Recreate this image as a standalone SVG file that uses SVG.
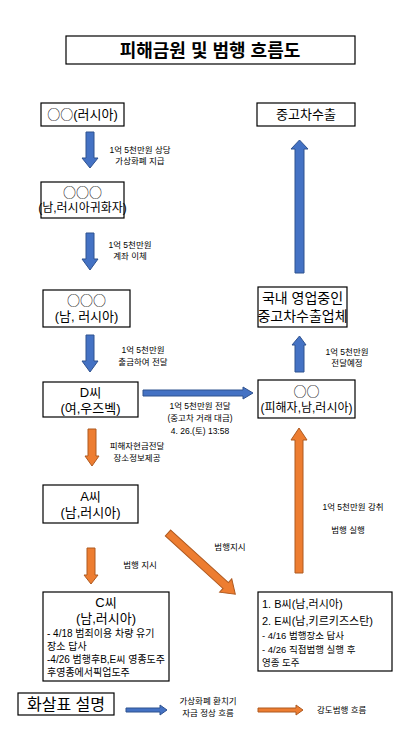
<svg xmlns="http://www.w3.org/2000/svg" width="414" height="738" viewBox="0 0 414 738">
<style>
text{font-family:"Liberation Sans","Noto Sans CJK KR",sans-serif;fill:#000;}
.cj{font-family:"Noto Sans CJK KR",sans-serif;}
.box{fill:#fff;stroke:#000;stroke-width:1.2;}
.t13{font-size:13px;text-anchor:middle;}
.lbl{font-size:8.5px;text-anchor:middle;}
.blue{fill:#4472C4;stroke:#2F528F;stroke-width:1;}
.orange{fill:#ED7D31;stroke:#AE5A21;stroke-width:1;}
</style>
<rect width="414" height="738" fill="#fff"/>
<g id="title">
<rect class="box" x="66" y="36" width="289" height="28"/>
<text x="210" y="57" font-size="18" font-weight="bold" text-anchor="middle">피해금원 및 범행 흐름도</text>
</g>
<g id="n1">
<rect class="box" x="41" y="103" width="83" height="23"/>
<text class="t13" x="82.5" y="119"><tspan class="cj">○○</tspan>(러시아)</text>
</g>
<g id="n2">
<rect class="box" x="41" y="182" width="83" height="36"/>
<text class="t13 cj" x="82.5" y="197">○○○</text>
<text x="82.5" y="212" font-size="12" text-anchor="middle">(남,러시아귀화자)</text>
</g>
<g id="n3">
<rect class="box" x="43" y="290" width="87" height="37"/>
<text class="t13 cj" x="86.5" y="305">○○○</text>
<text class="t13" x="86.5" y="321">(남, 러시아)</text>
</g>
<g id="nD">
<rect class="box" x="43" y="382" width="95" height="35"/>
<text class="t13" x="90.5" y="397">D씨</text>
<text class="t13" x="90.5" y="413">(여,우즈벡)</text>
</g>
<g id="nA">
<rect class="box" x="43" y="485" width="95" height="38"/>
<text class="t13" x="90.5" y="501">A씨</text>
<text class="t13" x="90.5" y="517">(남,러시아)</text>
</g>
<g id="nC">
<rect class="box" x="43" y="592" width="126" height="89"/>
<text class="t13" x="106" y="607">C씨</text>
<text class="t13" x="106" y="623">(남,러시아)</text>
<text x="47" y="637" font-size="10">- 4/18 범죄이용 차량 유기</text>
<text x="47" y="650" font-size="10">장소 답사</text>
<text x="47" y="663" font-size="10" textLength="118" lengthAdjust="spacingAndGlyphs">-4/26 범행후B,E씨 영종도주</text>
<text x="47" y="676" font-size="10">후영종에서픽업도주</text>
</g>
<g id="nExport">
<rect class="box" x="257" y="103" width="98" height="23"/>
<text class="t13" x="306" y="119">중고차수출</text>
</g>
<g id="nCompany">
<rect class="box" x="258" y="287" width="89" height="40"/>
<text x="302.5" y="303" font-size="14" text-anchor="middle">국내 영업중인</text>
<text x="302.5" y="321" font-size="14" text-anchor="middle">중고차수출업체</text>
</g>
<g id="nVictim">
<rect class="box" x="258" y="380" width="97" height="38"/>
<text class="t13 cj" x="306.5" y="396">○○</text>
<text x="306.5" y="412" font-size="12" text-anchor="middle">(피해자,남,러시아)</text>
</g>
<g id="nBE">
<rect class="box" x="258" y="592" width="134" height="79"/>
<text x="262" y="608" font-size="11">1. B씨(남,러시아)</text>
<text x="262" y="625" font-size="11">2. E씨(남,키르키즈스탄)</text>
<text x="262" y="639" font-size="9.5">- 4/16 범행장소 답사</text>
<text x="262" y="653" font-size="9.5">- 4/26 직접범행 실행 후</text>
<text x="262" y="666" font-size="9.5">영종 도주</text>
</g>
<g id="legend">
<rect class="box" x="18" y="693" width="96" height="22"/>
<text x="66" y="710" font-size="16" text-anchor="middle">화살표 설명</text>
<polygon class="blue" points="126,708 160,708 160,705 167,710 160,715 160,712 126,712"/>
<text class="lbl" x="208" y="704">가상화폐 환치기</text>
<text class="lbl" x="208" y="716">자금 정상 흐름</text>
<polygon class="orange" points="258,708 296,708 296,705 303,710 296,715 296,712 258,712"/>
<text x="317" y="713" font-size="8.5">강도범행 흐름</text>
</g>
<g id="connectors">
<polygon class="blue" points="86,132 94,132 94,158 98,158 90,168 82,158 86,158"/>
<polygon class="blue" points="86,233 94,233 94,259 98,259 90,270 82,259 86,259"/>
<polygon class="blue" points="86,335 94,335 94,361 98,361 90,372 82,361 86,361"/>
<polygon class="blue" points="143,390 243,390 243,387 253,393 243,399 243,396 143,396"/>
<polygon class="orange" points="88,429 96,429 96,456 99,456 92,466 85,456 88,456"/>
<polygon class="orange" points="87,548 95,548 95,575 98,575 91,584 84,575 87,575"/>
<polygon class="orange" transform="translate(168,533) rotate(42.3)" points="0,-4 78,-4 78,-9 91,0 78,9 78,4 0,4"/>
<polygon class="orange" points="295,573 303,573 303,440 307,440 299,428 291,440 295,440"/>
<polygon class="blue" points="295,372 304,372 304,345 306,345 299.5,336 292,345 295,345"/>
<polygon class="blue" points="295,273 304,273 304,149 308,149 299.5,140 291,149 295,149"/>
</g>
<g id="labels">
<text class="lbl" x="140" y="153">1억 5천만원 상당</text>
<text class="lbl" x="140" y="164">가상화폐 지급</text>
<text class="lbl" x="130" y="248">1억 5천만원</text>
<text class="lbl" x="130" y="259">계좌 이체</text>
<text class="lbl" x="143" y="353">1억 5천만원</text>
<text class="lbl" x="143" y="365">출금하여 전달</text>
<text class="lbl" x="200" y="409">1억 5천만원 전달</text>
<text class="lbl" x="200" y="421">(중고차 거래 대금)</text>
<text class="lbl" x="200" y="434">4. 26.(토) 13:58</text>
<text class="lbl" x="137" y="449">피해자현금전달</text>
<text class="lbl" x="137" y="461">장소정보제공</text>
<text class="lbl" x="140" y="568">범행 지시</text>
<text class="lbl" x="230" y="550">범행지시</text>
<text class="lbl" x="347" y="355">1억 5천만원</text>
<text class="lbl" x="347" y="366">전달예정</text>
<text class="lbl" x="353" y="510">1억 5천만원 강취</text>
<text class="lbl" x="348" y="533">범행 실행</text>
</g>
</svg>
